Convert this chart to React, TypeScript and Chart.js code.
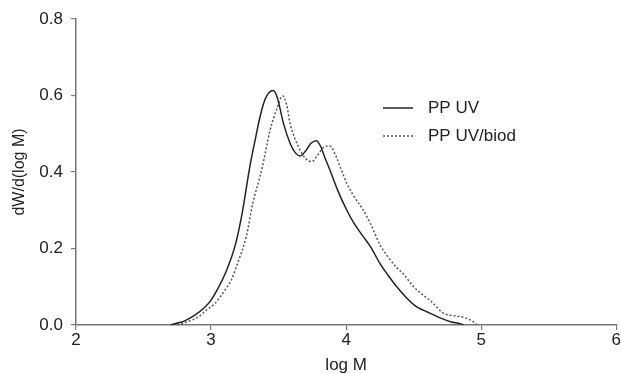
import React, { useEffect, useRef } from "react";
import { Chart, registerables } from "chart.js";

Chart.register(...registerables);

const seriesNames = ["PP UV", "PP UV/biod"];

const uvX = [2.70, 2.75, 2.80, 2.88, 2.95, 3.00, 3.05, 3.116, 3.18, 3.23, 3.29, 3.33, 3.363, 3.40, 3.43, 3.46, 3.49, 3.536, 3.585, 3.62, 3.66, 3.70, 3.74, 3.78, 3.81, 3.84, 3.88, 3.94, 4.005, 4.06, 4.127, 4.18, 4.25, 4.31, 4.375, 4.45, 4.52, 4.57, 4.62, 4.70, 4.78, 4.84, 4.87];
const uvY = [0.000, 0.005, 0.010, 0.026, 0.045, 0.065, 0.095, 0.144, 0.21, 0.292, 0.420, 0.490, 0.545, 0.590, 0.608, 0.613, 0.595, 0.527, 0.475, 0.452, 0.442, 0.455, 0.475, 0.482, 0.468, 0.440, 0.405, 0.350, 0.300, 0.265, 0.231, 0.205, 0.161, 0.130, 0.100, 0.070, 0.048, 0.039, 0.031, 0.018, 0.008, 0.004, 0.000];

const biodX = [2.72, 2.80, 2.90, 2.97, 3.03, 3.10, 3.15, 3.20, 3.26, 3.31, 3.36, 3.39, 3.437, 3.487, 3.53, 3.56, 3.585, 3.647, 3.70, 3.746, 3.79, 3.84, 3.88, 3.92, 3.955, 4.005, 4.06, 4.127, 4.18, 4.25, 4.31, 4.375, 4.42, 4.50, 4.585, 4.62, 4.72, 4.80, 4.87, 4.94, 4.97];
const biodY = [0.000, 0.006, 0.020, 0.040, 0.057, 0.090, 0.118, 0.165, 0.230, 0.320, 0.385, 0.430, 0.510, 0.565, 0.599, 0.575, 0.527, 0.466, 0.435, 0.427, 0.445, 0.466, 0.468, 0.445, 0.414, 0.370, 0.335, 0.300, 0.265, 0.210, 0.178, 0.150, 0.135, 0.100, 0.074, 0.065, 0.031, 0.024, 0.020, 0.009, 0.000];

const xTicks = [2, 3, 4, 5, 6];
const yTicks = [0.0, 0.2, 0.4, 0.6, 0.8];

const FONT = "'Liberation Sans', Arial, sans-serif";
const FS = 17;

const legendPlugin = {
  id: "inlineLegend",
  afterDraw(chart: any) {
    const ctx = chart.ctx;
    const x0 = 383;
    const rows = [108, 136];
    ctx.save();
    chart.data.datasets.forEach((ds: any, i: number) => {
      const y = rows[i];
      ctx.beginPath();
      ctx.setLineDash(ds.borderDash || []);
      ctx.strokeStyle = ds.borderColor;
      ctx.lineWidth = ds.borderWidth;
      ctx.moveTo(x0, y);
      ctx.lineTo(x0 + 30, y);
      ctx.stroke();
      ctx.setLineDash([]);
      ctx.fillStyle = "#222";
      ctx.font = `${FS}px ${FONT}`;
      ctx.textBaseline = "middle";
      ctx.textAlign = "left";
      ctx.fillText(ds.label, x0 + 45, y);
    });
    ctx.restore();
  },
};

export default function App() {
  const ref = useRef<HTMLCanvasElement | null>(null);
  useEffect(() => {
    document.body.style.margin = "0";
    const canvas = ref.current!;
    const chart = new Chart(canvas, {
      type: "line",
      data: {
        datasets: [
          {
            label: seriesNames[0],
            data: uvX.map((x, i) => ({ x, y: uvY[i] })),
            borderColor: "#222",
            borderWidth: 1.5,
            pointRadius: 0,
            cubicInterpolationMode: "monotone",
            fill: false,
          },
          {
            label: seriesNames[1],
            data: biodX.map((x, i) => ({ x, y: biodY[i] })),
            borderColor: "#555",
            borderWidth: 1.5,
            borderDash: [2, 2],
            pointRadius: 0,
            cubicInterpolationMode: "monotone",
            fill: false,
          },
        ],
      },
      options: {
        animation: false,
        responsive: false,
        maintainAspectRatio: false,
        layout: { padding: { top: 19, right: 4, left: 0, bottom: 0 } },
        plugins: { legend: { display: false }, tooltip: { enabled: false } },
        scales: {
          x: {
            type: "linear",
            min: 2,
            max: 6,
            afterBuildTicks: (s: any) => {
              s.ticks = xTicks.map((v) => ({ value: v }));
            },
            afterFit: (s: any) => {
              s.height = 49;
            },
            ticks: {
              color: "#222",
              font: { family: FONT, size: FS },
              padding: 0,
              maxRotation: 0,
              callback: (v: any) => String(v),
            },
            grid: { drawOnChartArea: false, drawTicks: true, tickLength: 5, color: "#777", lineWidth: 1.2 },
            border: { display: true, color: "#777", width: 1.5 },
            title: {
              display: true,
              text: "log M",
              color: "#222",
              font: { family: FONT, size: FS },
              padding: { top: 0, bottom: -2 },
            },
          },
          y: {
            type: "linear",
            min: 0,
            max: 0.8,
            afterBuildTicks: (s: any) => {
              s.ticks = yTicks.map((v) => ({ value: v }));
            },
            afterFit: (s: any) => {
              s.width = 76;
            },
            ticks: {
              color: "#222",
              font: { family: FONT, size: FS },
              padding: 8,
              callback: (v: any) => Number(v).toFixed(1),
            },
            grid: { drawOnChartArea: false, drawTicks: true, tickLength: 5, color: "#777", lineWidth: 1.2 },
            border: { display: true, color: "#777", width: 1.5 },
            title: {
              display: true,
              text: "dW/d(log M)",
              color: "#222",
              font: { family: FONT, size: 16 },
              padding: { top: 10, bottom: 0 },
            },
          },
        },
      },
      plugins: [legendPlugin],
    });
    return () => chart.destroy();
  }, []);
  return <canvas ref={ref} width={621} height={374} style={{ display: "block" }} />;
}
